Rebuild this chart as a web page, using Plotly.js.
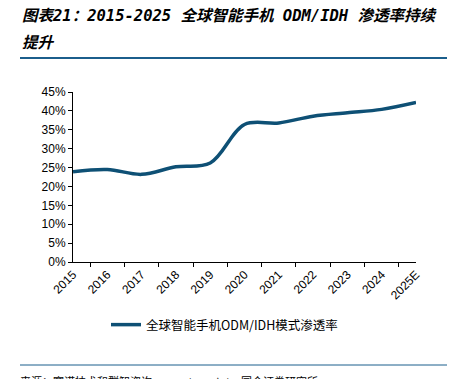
<!DOCTYPE html>
<html><head><meta charset="utf-8">
<script src="https://cdn.plot.ly/plotly-3.0.1.min.js"></script>
<style>html,body{margin:0;padding:0;background:#fff;}#chart{width:449px;height:379px;}</style>
</head><body><div id="chart"></div>
<script>
const years = ['2015','2016','2017','2018','2019','2020','2021','2022','2023','2024','2025E'];
const penetration = [0.239, 0.245, 0.232, 0.252, 0.262, 0.364, 0.368, 0.386, 0.395, 0.404, 0.422];
const yTickVals = [0,0.05,0.1,0.15,0.2,0.25,0.3,0.35,0.4,0.45];
const yTickText = ['0%','5%','10%','15%','20%','25%','30%','35%','40%','45%'];
const seriesName = '全球智能手机ODM/IDH模式渗透率';
const titleLine1 = '图表21：2015-2025 全球智能手机 ODM/IDH 渗透率持续';
const titleLine2 = '提升';
const sourceText = '来源：赛诺技术和群智咨询，counterpoint，国金证券研究所';

const cjk = '"Noto Sans CJK SC", sans-serif';
const titleFont = '"DejaVu Sans Mono", "Noto Sans CJK SC", monospace';
const lat = '"Liberation Sans", Arial, sans-serif';

// pixel helpers -> paper coords (plot area: x 73..416, y 92..262)
const px = v => (v - 73) / 343;
const py = v => (262 - v) / 170;

Plotly.newPlot('chart', [{
  x: years, y: penetration, type: 'scatter', mode: 'lines', name: seriesName,
  line: {color: '#0e5075', width: 3.5, shape: 'spline', smoothing: 1.0}
}], {
  width: 449, height: 379,
  margin: {l: 73, r: 33, t: 92, b: 117},
  paper_bgcolor: '#fff', plot_bgcolor: '#fff',
  showlegend: true,
  legend: {orientation: 'h', x: px(106), xanchor: 'left', y: py(325), yanchor: 'middle',
    font: {family: cjk, size: 12.5, color: '#000'}, itemwidth: 30},
  xaxis: {type: 'category', showgrid: false, zeroline: false, showline: true, linecolor: '#000', linewidth: 1,
    ticks: 'outside', tickson: 'boundaries', ticklen: 4, tickcolor: '#000', tickangle: -45,
    tickfont: {family: lat, size: 12, color: '#000'}},
  yaxis: {range: [0, 0.45], tickvals: yTickVals, ticktext: yTickText, showgrid: false, zeroline: false,
    showline: true, linecolor: '#000', linewidth: 1, ticks: 'outside', ticklen: 4, tickcolor: '#000',
    tickfont: {family: lat, size: 12, color: '#000'}},
  shapes: [
    {type: 'line', xref: 'paper', yref: 'paper', x0: px(20), x1: px(447), y0: py(58), y1: py(58), line: {color: '#1b5e8c', width: 2}},
    {type: 'line', xref: 'paper', yref: 'paper', x0: px(20), x1: px(447), y0: py(365), y1: py(365), line: {color: '#1b5e8c', width: 1}}
  ],
  annotations: [
    {text: '<b><i>' + titleLine1 + '</i></b>', xref: 'paper', yref: 'paper', x: px(20), xanchor: 'left', y: py(16), yanchor: 'middle', showarrow: false,
      font: {family: titleFont, size: 15.5, color: '#000'}},
    {text: '<b><i>' + titleLine2 + '</i></b>', xref: 'paper', yref: 'paper', x: px(20), xanchor: 'left', y: py(43), yanchor: 'middle', showarrow: false,
      font: {family: titleFont, size: 15.5, color: '#000'}},
    {text: sourceText, xref: 'paper', yref: 'paper', x: px(18), xanchor: 'left', y: py(371), yanchor: 'top', showarrow: false,
      font: {family: cjk, size: 11, color: '#000'}}
  ]
}, {displayModeBar: false, staticPlot: true});
</script></body></html>
